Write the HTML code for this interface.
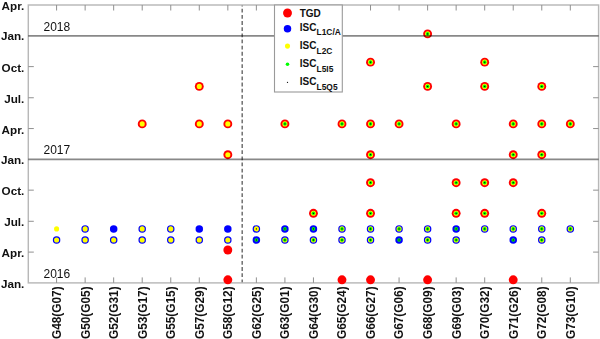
<!DOCTYPE html>
<html><head><meta charset="utf-8"><style>
html,body{margin:0;padding:0;background:#fff;}
svg{display:block;}
text{font-family:"Liberation Sans",sans-serif;}
.yl{font-size:11.7px;font-weight:bold;fill:#111;}
.yr{font-size:12px;fill:#111;}
.xl{font-size:11.85px;font-weight:bold;fill:#111;}
.lg{font-size:10px;font-weight:bold;fill:#111;}
.ls{font-size:8.4px;font-weight:bold;fill:#111;}
</style></head><body>
<svg width="600" height="339" viewBox="0 0 600 339">
<rect width="600" height="339" fill="#fff"/>
<line x1="242.2" y1="5" x2="242.2" y2="282.9" stroke="#707070" stroke-width="1.5" stroke-dasharray="3.8 2.35" stroke-dashoffset="-3.8"/>
<rect x="28.3" y="5" width="570.3000000000001" height="277.9" fill="none" stroke="#b8b8b8" stroke-width="1.45"/>
<line x1="56.59" y1="282.9" x2="56.59" y2="277.4" stroke="#909090" stroke-width="1"/>
<line x1="56.59" y1="5" x2="56.59" y2="10.5" stroke="#909090" stroke-width="1"/>
<line x1="85.13" y1="282.9" x2="85.13" y2="277.4" stroke="#909090" stroke-width="1"/>
<line x1="85.13" y1="5" x2="85.13" y2="10.5" stroke="#909090" stroke-width="1"/>
<line x1="113.67" y1="282.9" x2="113.67" y2="277.4" stroke="#909090" stroke-width="1"/>
<line x1="113.67" y1="5" x2="113.67" y2="10.5" stroke="#909090" stroke-width="1"/>
<line x1="142.21" y1="282.9" x2="142.21" y2="277.4" stroke="#909090" stroke-width="1"/>
<line x1="142.21" y1="5" x2="142.21" y2="10.5" stroke="#909090" stroke-width="1"/>
<line x1="170.75" y1="282.9" x2="170.75" y2="277.4" stroke="#909090" stroke-width="1"/>
<line x1="170.75" y1="5" x2="170.75" y2="10.5" stroke="#909090" stroke-width="1"/>
<line x1="199.29000000000002" y1="282.9" x2="199.29000000000002" y2="277.4" stroke="#909090" stroke-width="1"/>
<line x1="199.29000000000002" y1="5" x2="199.29000000000002" y2="10.5" stroke="#909090" stroke-width="1"/>
<line x1="227.83" y1="282.9" x2="227.83" y2="277.4" stroke="#909090" stroke-width="1"/>
<line x1="227.83" y1="5" x2="227.83" y2="10.5" stroke="#909090" stroke-width="1"/>
<line x1="256.37" y1="282.9" x2="256.37" y2="277.4" stroke="#909090" stroke-width="1"/>
<line x1="256.37" y1="5" x2="256.37" y2="10.5" stroke="#909090" stroke-width="1"/>
<line x1="284.91" y1="282.9" x2="284.91" y2="277.4" stroke="#909090" stroke-width="1"/>
<line x1="284.91" y1="5" x2="284.91" y2="10.5" stroke="#909090" stroke-width="1"/>
<line x1="313.45" y1="282.9" x2="313.45" y2="277.4" stroke="#909090" stroke-width="1"/>
<line x1="313.45" y1="5" x2="313.45" y2="10.5" stroke="#909090" stroke-width="1"/>
<line x1="341.99" y1="282.9" x2="341.99" y2="277.4" stroke="#909090" stroke-width="1"/>
<line x1="341.99" y1="5" x2="341.99" y2="10.5" stroke="#909090" stroke-width="1"/>
<line x1="370.53000000000003" y1="282.9" x2="370.53000000000003" y2="277.4" stroke="#909090" stroke-width="1"/>
<line x1="370.53000000000003" y1="5" x2="370.53000000000003" y2="10.5" stroke="#909090" stroke-width="1"/>
<line x1="399.07" y1="282.9" x2="399.07" y2="277.4" stroke="#909090" stroke-width="1"/>
<line x1="399.07" y1="5" x2="399.07" y2="10.5" stroke="#909090" stroke-width="1"/>
<line x1="427.61" y1="282.9" x2="427.61" y2="277.4" stroke="#909090" stroke-width="1"/>
<line x1="427.61" y1="5" x2="427.61" y2="10.5" stroke="#909090" stroke-width="1"/>
<line x1="456.15" y1="282.9" x2="456.15" y2="277.4" stroke="#909090" stroke-width="1"/>
<line x1="456.15" y1="5" x2="456.15" y2="10.5" stroke="#909090" stroke-width="1"/>
<line x1="484.69" y1="282.9" x2="484.69" y2="277.4" stroke="#909090" stroke-width="1"/>
<line x1="484.69" y1="5" x2="484.69" y2="10.5" stroke="#909090" stroke-width="1"/>
<line x1="513.23" y1="282.9" x2="513.23" y2="277.4" stroke="#909090" stroke-width="1"/>
<line x1="513.23" y1="5" x2="513.23" y2="10.5" stroke="#909090" stroke-width="1"/>
<line x1="541.77" y1="282.9" x2="541.77" y2="277.4" stroke="#909090" stroke-width="1"/>
<line x1="541.77" y1="5" x2="541.77" y2="10.5" stroke="#909090" stroke-width="1"/>
<line x1="570.31" y1="282.9" x2="570.31" y2="277.4" stroke="#909090" stroke-width="1"/>
<line x1="570.31" y1="5" x2="570.31" y2="10.5" stroke="#909090" stroke-width="1"/>
<text x="24.3" y="287.90" text-anchor="end" class="yl">Jan.</text>
<line x1="28.3" y1="252.10" x2="33.8" y2="252.10" stroke="#909090" stroke-width="1"/>
<line x1="598.6" y1="252.10" x2="593.1" y2="252.10" stroke="#909090" stroke-width="1"/>
<text x="24.3" y="257.10" text-anchor="end" class="yl">Apr.</text>
<line x1="28.3" y1="221.29" x2="33.8" y2="221.29" stroke="#909090" stroke-width="1"/>
<line x1="598.6" y1="221.29" x2="593.1" y2="221.29" stroke="#909090" stroke-width="1"/>
<text x="24.3" y="226.29" text-anchor="end" class="yl">Jul.</text>
<line x1="28.3" y1="190.15" x2="33.8" y2="190.15" stroke="#909090" stroke-width="1"/>
<line x1="598.6" y1="190.15" x2="593.1" y2="190.15" stroke="#909090" stroke-width="1"/>
<text x="24.3" y="195.15" text-anchor="end" class="yl">Oct.</text>
<text x="24.3" y="164.01" text-anchor="end" class="yl">Jan.</text>
<line x1="28.3" y1="128.55" x2="33.8" y2="128.55" stroke="#909090" stroke-width="1"/>
<line x1="598.6" y1="128.55" x2="593.1" y2="128.55" stroke="#909090" stroke-width="1"/>
<text x="24.3" y="133.55" text-anchor="end" class="yl">Apr.</text>
<line x1="28.3" y1="97.75" x2="33.8" y2="97.75" stroke="#909090" stroke-width="1"/>
<line x1="598.6" y1="97.75" x2="593.1" y2="97.75" stroke="#909090" stroke-width="1"/>
<text x="24.3" y="102.75" text-anchor="end" class="yl">Jul.</text>
<line x1="28.3" y1="66.61" x2="33.8" y2="66.61" stroke="#909090" stroke-width="1"/>
<line x1="598.6" y1="66.61" x2="593.1" y2="66.61" stroke="#909090" stroke-width="1"/>
<text x="24.3" y="71.61" text-anchor="end" class="yl">Oct.</text>
<text x="24.3" y="40.46" text-anchor="end" class="yl">Jan.</text>
<text x="24.3" y="10.00" text-anchor="end" class="yl">Apr.</text>
<text x="43.5" y="30.8" class="yr">2018</text>
<text x="43.5" y="154.0" class="yr">2017</text>
<text x="43.5" y="277.8" class="yr">2016</text>
<text transform="translate(60.99,286.4) rotate(-90)" text-anchor="end" class="xl">G48(G07)</text>
<text transform="translate(89.53,286.4) rotate(-90)" text-anchor="end" class="xl">G50(G05)</text>
<text transform="translate(118.07,286.4) rotate(-90)" text-anchor="end" class="xl">G52(G31)</text>
<text transform="translate(146.61,286.4) rotate(-90)" text-anchor="end" class="xl">G53(G17)</text>
<text transform="translate(175.15,286.4) rotate(-90)" text-anchor="end" class="xl">G55(G15)</text>
<text transform="translate(203.69,286.4) rotate(-90)" text-anchor="end" class="xl">G57(G29)</text>
<text transform="translate(232.23,286.4) rotate(-90)" text-anchor="end" class="xl">G58(G12)</text>
<text transform="translate(260.77,286.4) rotate(-90)" text-anchor="end" class="xl">G62(G25)</text>
<text transform="translate(289.31,286.4) rotate(-90)" text-anchor="end" class="xl">G63(G01)</text>
<text transform="translate(317.85,286.4) rotate(-90)" text-anchor="end" class="xl">G64(G30)</text>
<text transform="translate(346.39,286.4) rotate(-90)" text-anchor="end" class="xl">G65(G24)</text>
<text transform="translate(374.93,286.4) rotate(-90)" text-anchor="end" class="xl">G66(G27)</text>
<text transform="translate(403.47,286.4) rotate(-90)" text-anchor="end" class="xl">G67(G06)</text>
<text transform="translate(432.01,286.4) rotate(-90)" text-anchor="end" class="xl">G68(G09)</text>
<text transform="translate(460.55,286.4) rotate(-90)" text-anchor="end" class="xl">G69(G03)</text>
<text transform="translate(489.09,286.4) rotate(-90)" text-anchor="end" class="xl">G70(G32)</text>
<text transform="translate(517.63,286.4) rotate(-90)" text-anchor="end" class="xl">G71(G26)</text>
<text transform="translate(546.17,286.4) rotate(-90)" text-anchor="end" class="xl">G72(G08)</text>
<text transform="translate(574.71,286.4) rotate(-90)" text-anchor="end" class="xl">G73(G10)</text>
<circle cx="427.61" cy="33.90" r="4.45" fill="#ff0000"/><circle cx="427.61" cy="33.90" r="2.55" fill="#ffff00"/><circle cx="427.61" cy="33.90" r="1.8" fill="#00ff00"/><circle cx="427.61" cy="33.90" r="0.65" fill="#000000"/>
<circle cx="370.53" cy="62.15" r="4.45" fill="#ff0000"/><circle cx="370.53" cy="62.15" r="2.55" fill="#ffff00"/><circle cx="370.53" cy="62.15" r="1.8" fill="#00ff00"/><circle cx="370.53" cy="62.15" r="0.65" fill="#000000"/>
<circle cx="484.69" cy="62.15" r="4.45" fill="#ff0000"/><circle cx="484.69" cy="62.15" r="2.55" fill="#ffff00"/><circle cx="484.69" cy="62.15" r="1.8" fill="#00ff00"/><circle cx="484.69" cy="62.15" r="0.65" fill="#000000"/>
<circle cx="199.29" cy="86.40" r="4.45" fill="#ff0000"/><circle cx="199.29" cy="86.40" r="2.55" fill="#ffff00"/>
<circle cx="427.61" cy="86.40" r="4.45" fill="#ff0000"/><circle cx="427.61" cy="86.40" r="2.55" fill="#ffff00"/><circle cx="427.61" cy="86.40" r="1.8" fill="#00ff00"/><circle cx="427.61" cy="86.40" r="0.65" fill="#000000"/>
<circle cx="484.69" cy="86.40" r="4.45" fill="#ff0000"/><circle cx="484.69" cy="86.40" r="2.55" fill="#ffff00"/><circle cx="484.69" cy="86.40" r="1.8" fill="#00ff00"/><circle cx="484.69" cy="86.40" r="0.65" fill="#000000"/>
<circle cx="541.77" cy="86.40" r="4.45" fill="#ff0000"/><circle cx="541.77" cy="86.40" r="2.55" fill="#ffff00"/><circle cx="541.77" cy="86.40" r="1.8" fill="#00ff00"/><circle cx="541.77" cy="86.40" r="0.65" fill="#000000"/>
<circle cx="142.21" cy="123.90" r="4.45" fill="#ff0000"/><circle cx="142.21" cy="123.90" r="2.55" fill="#ffff00"/>
<circle cx="199.29" cy="123.90" r="4.45" fill="#ff0000"/><circle cx="199.29" cy="123.90" r="2.55" fill="#ffff00"/>
<circle cx="227.83" cy="123.90" r="4.45" fill="#ff0000"/><circle cx="227.83" cy="123.90" r="2.55" fill="#ffff00"/>
<circle cx="284.91" cy="123.90" r="4.45" fill="#ff0000"/><circle cx="284.91" cy="123.90" r="2.55" fill="#ffff00"/><circle cx="284.91" cy="123.90" r="1.8" fill="#00ff00"/><circle cx="284.91" cy="123.90" r="0.65" fill="#000000"/>
<circle cx="341.99" cy="123.90" r="4.45" fill="#ff0000"/><circle cx="341.99" cy="123.90" r="2.55" fill="#ffff00"/><circle cx="341.99" cy="123.90" r="1.8" fill="#00ff00"/><circle cx="341.99" cy="123.90" r="0.65" fill="#000000"/>
<circle cx="370.53" cy="123.90" r="4.45" fill="#ff0000"/><circle cx="370.53" cy="123.90" r="2.55" fill="#ffff00"/><circle cx="370.53" cy="123.90" r="1.8" fill="#00ff00"/><circle cx="370.53" cy="123.90" r="0.65" fill="#000000"/>
<circle cx="399.07" cy="123.90" r="4.45" fill="#ff0000"/><circle cx="399.07" cy="123.90" r="2.55" fill="#ffff00"/><circle cx="399.07" cy="123.90" r="1.8" fill="#00ff00"/><circle cx="399.07" cy="123.90" r="0.65" fill="#000000"/>
<circle cx="456.15" cy="123.90" r="4.45" fill="#ff0000"/><circle cx="456.15" cy="123.90" r="2.55" fill="#ffff00"/><circle cx="456.15" cy="123.90" r="1.8" fill="#00ff00"/><circle cx="456.15" cy="123.90" r="0.65" fill="#000000"/>
<circle cx="513.23" cy="123.90" r="4.45" fill="#ff0000"/><circle cx="513.23" cy="123.90" r="2.55" fill="#ffff00"/><circle cx="513.23" cy="123.90" r="1.8" fill="#00ff00"/><circle cx="513.23" cy="123.90" r="0.65" fill="#000000"/>
<circle cx="541.77" cy="123.90" r="4.45" fill="#ff0000"/><circle cx="541.77" cy="123.90" r="2.55" fill="#ffff00"/><circle cx="541.77" cy="123.90" r="1.8" fill="#00ff00"/><circle cx="541.77" cy="123.90" r="0.65" fill="#000000"/>
<circle cx="570.31" cy="123.90" r="4.45" fill="#ff0000"/><circle cx="570.31" cy="123.90" r="2.55" fill="#ffff00"/><circle cx="570.31" cy="123.90" r="1.8" fill="#00ff00"/><circle cx="570.31" cy="123.90" r="0.65" fill="#000000"/>
<circle cx="227.83" cy="154.70" r="4.45" fill="#ff0000"/><circle cx="227.83" cy="154.70" r="2.55" fill="#ffff00"/>
<circle cx="370.53" cy="154.70" r="4.45" fill="#ff0000"/><circle cx="370.53" cy="154.70" r="2.55" fill="#ffff00"/><circle cx="370.53" cy="154.70" r="1.8" fill="#00ff00"/><circle cx="370.53" cy="154.70" r="0.65" fill="#000000"/>
<circle cx="513.23" cy="154.70" r="4.45" fill="#ff0000"/><circle cx="513.23" cy="154.70" r="2.55" fill="#ffff00"/><circle cx="513.23" cy="154.70" r="1.8" fill="#00ff00"/><circle cx="513.23" cy="154.70" r="0.65" fill="#000000"/>
<circle cx="541.77" cy="154.70" r="4.45" fill="#ff0000"/><circle cx="541.77" cy="154.70" r="2.55" fill="#ffff00"/><circle cx="541.77" cy="154.70" r="1.8" fill="#00ff00"/><circle cx="541.77" cy="154.70" r="0.65" fill="#000000"/>
<circle cx="370.53" cy="182.70" r="4.45" fill="#ff0000"/><circle cx="370.53" cy="182.70" r="2.55" fill="#ffff00"/><circle cx="370.53" cy="182.70" r="1.8" fill="#00ff00"/><circle cx="370.53" cy="182.70" r="0.65" fill="#000000"/>
<circle cx="456.15" cy="182.70" r="4.45" fill="#ff0000"/><circle cx="456.15" cy="182.70" r="2.55" fill="#ffff00"/><circle cx="456.15" cy="182.70" r="1.8" fill="#00ff00"/><circle cx="456.15" cy="182.70" r="0.65" fill="#000000"/>
<circle cx="484.69" cy="182.70" r="4.45" fill="#ff0000"/><circle cx="484.69" cy="182.70" r="2.55" fill="#ffff00"/><circle cx="484.69" cy="182.70" r="1.8" fill="#00ff00"/><circle cx="484.69" cy="182.70" r="0.65" fill="#000000"/>
<circle cx="513.23" cy="182.70" r="4.45" fill="#ff0000"/><circle cx="513.23" cy="182.70" r="2.55" fill="#ffff00"/><circle cx="513.23" cy="182.70" r="1.8" fill="#00ff00"/><circle cx="513.23" cy="182.70" r="0.65" fill="#000000"/>
<circle cx="313.45" cy="213.30" r="4.45" fill="#ff0000"/><circle cx="313.45" cy="213.30" r="2.55" fill="#ffff00"/><circle cx="313.45" cy="213.30" r="1.8" fill="#00ff00"/><circle cx="313.45" cy="213.30" r="0.65" fill="#000000"/>
<circle cx="370.53" cy="213.30" r="4.45" fill="#ff0000"/><circle cx="370.53" cy="213.30" r="2.55" fill="#ffff00"/><circle cx="370.53" cy="213.30" r="1.8" fill="#00ff00"/><circle cx="370.53" cy="213.30" r="0.65" fill="#000000"/>
<circle cx="456.15" cy="213.30" r="4.45" fill="#ff0000"/><circle cx="456.15" cy="213.30" r="2.55" fill="#ffff00"/><circle cx="456.15" cy="213.30" r="1.8" fill="#00ff00"/><circle cx="456.15" cy="213.30" r="0.65" fill="#000000"/>
<circle cx="484.69" cy="213.30" r="4.45" fill="#ff0000"/><circle cx="484.69" cy="213.30" r="2.55" fill="#ffff00"/><circle cx="484.69" cy="213.30" r="1.8" fill="#00ff00"/><circle cx="484.69" cy="213.30" r="0.65" fill="#000000"/>
<circle cx="541.77" cy="213.30" r="4.45" fill="#ff0000"/><circle cx="541.77" cy="213.30" r="2.55" fill="#ffff00"/><circle cx="541.77" cy="213.30" r="1.8" fill="#00ff00"/><circle cx="541.77" cy="213.30" r="0.65" fill="#000000"/>
<circle cx="56.59" cy="228.90" r="2.55" fill="#ffff00"/>
<circle cx="85.13" cy="228.90" r="3.75" fill="#0000ff"/><circle cx="85.13" cy="228.90" r="2.55" fill="#ffff00"/>
<circle cx="113.67" cy="228.90" r="3.75" fill="#0000ff"/>
<circle cx="142.21" cy="228.90" r="3.75" fill="#0000ff"/><circle cx="142.21" cy="228.90" r="2.55" fill="#ffff00"/>
<circle cx="170.75" cy="228.90" r="3.75" fill="#0000ff"/><circle cx="170.75" cy="228.90" r="2.55" fill="#ffff00"/>
<circle cx="199.29" cy="228.90" r="3.75" fill="#0000ff"/>
<circle cx="227.83" cy="228.90" r="3.75" fill="#0000ff"/>
<circle cx="256.37" cy="228.90" r="3.75" fill="#0000ff"/><circle cx="256.37" cy="228.90" r="2.55" fill="#ffff00"/><circle cx="256.37" cy="228.90" r="0.65" fill="#000000"/>
<circle cx="284.91" cy="228.90" r="3.75" fill="#0000ff"/><circle cx="284.91" cy="228.90" r="1.8" fill="#00ff00"/><circle cx="284.91" cy="228.90" r="0.65" fill="#000000"/>
<circle cx="313.45" cy="228.90" r="3.75" fill="#0000ff"/><circle cx="313.45" cy="228.90" r="1.8" fill="#00ff00"/><circle cx="313.45" cy="228.90" r="0.65" fill="#000000"/>
<circle cx="341.99" cy="228.90" r="3.75" fill="#0000ff"/><circle cx="341.99" cy="228.90" r="2.55" fill="#ffff00"/><circle cx="341.99" cy="228.90" r="1.8" fill="#00ff00"/><circle cx="341.99" cy="228.90" r="0.65" fill="#000000"/>
<circle cx="370.53" cy="228.90" r="3.75" fill="#0000ff"/><circle cx="370.53" cy="228.90" r="2.55" fill="#ffff00"/><circle cx="370.53" cy="228.90" r="1.8" fill="#00ff00"/><circle cx="370.53" cy="228.90" r="0.65" fill="#000000"/>
<circle cx="399.07" cy="228.90" r="3.75" fill="#0000ff"/><circle cx="399.07" cy="228.90" r="2.55" fill="#ffff00"/><circle cx="399.07" cy="228.90" r="1.8" fill="#00ff00"/><circle cx="399.07" cy="228.90" r="0.65" fill="#000000"/>
<circle cx="427.61" cy="228.90" r="3.75" fill="#0000ff"/><circle cx="427.61" cy="228.90" r="2.55" fill="#ffff00"/><circle cx="427.61" cy="228.90" r="1.8" fill="#00ff00"/><circle cx="427.61" cy="228.90" r="0.65" fill="#000000"/>
<circle cx="456.15" cy="228.90" r="3.75" fill="#0000ff"/><circle cx="456.15" cy="228.90" r="1.8" fill="#00ff00"/><circle cx="456.15" cy="228.90" r="0.65" fill="#000000"/>
<circle cx="484.69" cy="228.90" r="3.75" fill="#0000ff"/><circle cx="484.69" cy="228.90" r="2.55" fill="#ffff00"/><circle cx="484.69" cy="228.90" r="1.8" fill="#00ff00"/><circle cx="484.69" cy="228.90" r="0.65" fill="#000000"/>
<circle cx="513.23" cy="228.90" r="3.75" fill="#0000ff"/><circle cx="513.23" cy="228.90" r="2.55" fill="#ffff00"/><circle cx="513.23" cy="228.90" r="1.8" fill="#00ff00"/><circle cx="513.23" cy="228.90" r="0.65" fill="#000000"/>
<circle cx="541.77" cy="228.90" r="3.75" fill="#0000ff"/><circle cx="541.77" cy="228.90" r="2.55" fill="#ffff00"/><circle cx="541.77" cy="228.90" r="1.8" fill="#00ff00"/><circle cx="541.77" cy="228.90" r="0.65" fill="#000000"/>
<circle cx="570.31" cy="228.90" r="3.75" fill="#0000ff"/><circle cx="570.31" cy="228.90" r="2.55" fill="#ffff00"/><circle cx="570.31" cy="228.90" r="1.8" fill="#00ff00"/><circle cx="570.31" cy="228.90" r="0.65" fill="#000000"/>
<circle cx="56.59" cy="240.00" r="3.75" fill="#0000ff"/><circle cx="56.59" cy="240.00" r="2.55" fill="#ffff00"/>
<circle cx="85.13" cy="240.00" r="3.75" fill="#0000ff"/><circle cx="85.13" cy="240.00" r="2.55" fill="#ffff00"/>
<circle cx="113.67" cy="240.00" r="3.75" fill="#0000ff"/><circle cx="113.67" cy="240.00" r="2.55" fill="#ffff00"/>
<circle cx="142.21" cy="240.00" r="3.75" fill="#0000ff"/><circle cx="142.21" cy="240.00" r="2.55" fill="#ffff00"/>
<circle cx="170.75" cy="240.00" r="3.75" fill="#0000ff"/><circle cx="170.75" cy="240.00" r="2.55" fill="#ffff00"/>
<circle cx="199.29" cy="240.00" r="3.75" fill="#0000ff"/><circle cx="199.29" cy="240.00" r="2.55" fill="#ffff00"/>
<circle cx="227.83" cy="240.00" r="3.75" fill="#0000ff"/><circle cx="227.83" cy="240.00" r="2.55" fill="#ffff00"/>
<circle cx="256.37" cy="240.00" r="3.75" fill="#0000ff"/><circle cx="256.37" cy="240.00" r="1.8" fill="#00ff00"/><circle cx="256.37" cy="240.00" r="0.65" fill="#000000"/>
<circle cx="284.91" cy="240.00" r="3.75" fill="#0000ff"/><circle cx="284.91" cy="240.00" r="2.55" fill="#ffff00"/><circle cx="284.91" cy="240.00" r="1.8" fill="#00ff00"/><circle cx="284.91" cy="240.00" r="0.65" fill="#000000"/>
<circle cx="313.45" cy="240.00" r="3.75" fill="#0000ff"/><circle cx="313.45" cy="240.00" r="2.55" fill="#ffff00"/><circle cx="313.45" cy="240.00" r="1.8" fill="#00ff00"/><circle cx="313.45" cy="240.00" r="0.65" fill="#000000"/>
<circle cx="341.99" cy="240.00" r="3.75" fill="#0000ff"/><circle cx="341.99" cy="240.00" r="2.55" fill="#ffff00"/><circle cx="341.99" cy="240.00" r="1.8" fill="#00ff00"/><circle cx="341.99" cy="240.00" r="0.65" fill="#000000"/>
<circle cx="370.53" cy="240.00" r="3.75" fill="#0000ff"/><circle cx="370.53" cy="240.00" r="2.55" fill="#ffff00"/><circle cx="370.53" cy="240.00" r="1.8" fill="#00ff00"/><circle cx="370.53" cy="240.00" r="0.65" fill="#000000"/>
<circle cx="399.07" cy="240.00" r="3.75" fill="#0000ff"/><circle cx="399.07" cy="240.00" r="1.8" fill="#00ff00"/><circle cx="399.07" cy="240.00" r="0.65" fill="#000000"/>
<circle cx="427.61" cy="240.00" r="3.75" fill="#0000ff"/><circle cx="427.61" cy="240.00" r="2.55" fill="#ffff00"/><circle cx="427.61" cy="240.00" r="1.8" fill="#00ff00"/><circle cx="427.61" cy="240.00" r="0.65" fill="#000000"/>
<circle cx="456.15" cy="240.00" r="3.75" fill="#0000ff"/><circle cx="456.15" cy="240.00" r="2.55" fill="#ffff00"/><circle cx="456.15" cy="240.00" r="1.8" fill="#00ff00"/><circle cx="456.15" cy="240.00" r="0.65" fill="#000000"/>
<circle cx="513.23" cy="240.00" r="3.75" fill="#0000ff"/><circle cx="513.23" cy="240.00" r="1.8" fill="#00ff00"/><circle cx="513.23" cy="240.00" r="0.65" fill="#000000"/>
<circle cx="541.77" cy="240.00" r="3.75" fill="#0000ff"/><circle cx="541.77" cy="240.00" r="2.55" fill="#ffff00"/><circle cx="541.77" cy="240.00" r="1.8" fill="#00ff00"/><circle cx="541.77" cy="240.00" r="0.65" fill="#000000"/>
<circle cx="227.83" cy="250.00" r="4.45" fill="#ff0000"/>
<circle cx="227.83" cy="279.80" r="4.45" fill="#ff0000"/>
<circle cx="341.99" cy="279.80" r="4.45" fill="#ff0000"/>
<circle cx="370.53" cy="279.80" r="4.45" fill="#ff0000"/>
<circle cx="427.61" cy="279.80" r="4.45" fill="#ff0000"/>
<circle cx="513.23" cy="279.80" r="4.45" fill="#ff0000"/>
<line x1="28.3" y1="35.9" x2="598.6" y2="35.9" stroke="#888" stroke-width="1.6" style="mix-blend-mode:multiply"/>
<line x1="28.3" y1="159.35" x2="598.6" y2="159.35" stroke="#888" stroke-width="1.6" style="mix-blend-mode:multiply"/>
<rect x="274.5" y="5" width="67.8" height="87" fill="#fff" stroke="#9a9a9a" stroke-width="1.1"/>
<circle cx="287.5" cy="13.0" r="4.45" fill="#ff0000"/>
<text x="299.7" y="16.90" class="lg">TGD</text>
<circle cx="287.5" cy="28.8" r="3.75" fill="#0000ff"/>
<text x="299.7" y="30.60" class="lg">ISC</text>
<text x="316.6" y="35.40" class="ls">L1C/A</text>
<circle cx="287.5" cy="46.1" r="2.55" fill="#ffff00"/>
<text x="299.7" y="49.10" class="lg">ISC</text>
<text x="316.6" y="53.90" class="ls">L2C</text>
<circle cx="287.5" cy="64.2" r="1.8" fill="#00ff00"/>
<text x="299.7" y="67.10" class="lg">ISC</text>
<text x="316.6" y="71.90" class="ls">L5I5</text>
<circle cx="287.5" cy="82.3" r="0.65" fill="#000000"/>
<text x="299.7" y="84.80" class="lg">ISC</text>
<text x="316.6" y="89.60" class="ls">L5Q5</text>
</svg>
</body></html>
